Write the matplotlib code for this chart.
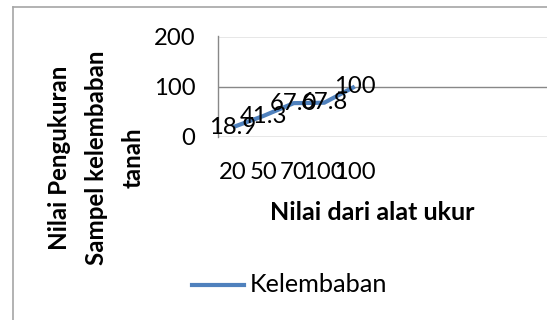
import matplotlib
matplotlib.use("Agg")
import matplotlib.pyplot as plt
from matplotlib.lines import Line2D

# Data
categories = ["20", "50", "70", "100", "100"]
values = [18.9, 41.3, 67.0, 67.8, 100]
value_labels = ["18.9", "41.3", "67.0", "67.8", "100"]
series_name = "Kelembaban"
y_ticks = [0, 100, 200]
x_title = "Nilai dari alat ukur"
y_title = "Nilai Pengukuran\nSampel kelembaban\ntanah"

plt.rcParams["font.family"] = ["Lato", "DejaVu Sans"]

W, H, DPI = 547, 320, 100
fig = plt.figure(figsize=(W / DPI, H / DPI), dpi=DPI)
fig.patch.set_facecolor("white")

def fx(px):
    return px / W

def fy(py):
    return 1 - py / H

# Chart-area border (left and top edges)
border = "#a6a6a6"
fig.add_artist(Line2D([fx(13), fx(13)], [fy(7), fy(330)], color=border, lw=1.2,
                      transform=fig.transFigure))
fig.add_artist(Line2D([fx(13), fx(560)], [fy(7), fy(7)], color=border, lw=1.2,
                      transform=fig.transFigure))

# Plot area
left_px, top_px, bottom_px, right_px = 217.5, 36.5, 136.7, 560
ax = fig.add_axes([fx(left_px), fy(bottom_px), fx(right_px - left_px),
                   (bottom_px - top_px) / H])
step = 30.5
ax.set_xlim(-0.5, -0.5 + (right_px - left_px) / step)
ax.set_ylim(0, 200)

grid_c = "#888888"
for s in ["top", "right", "bottom"]:
    ax.spines[s].set_visible(False)
ax.spines["left"].set_color(grid_c)
ax.spines["left"].set_linewidth(1.0)
ax.set_yticks(y_ticks)
ax.yaxis.grid(True, color=grid_c, linewidth=1.0)
ax.set_axisbelow(True)

fs = 17.2
ax.tick_params(axis="y", length=0, pad=16, labelsize=fs, labelcolor="black")
xs = list(range(len(categories)))
ax.set_xticks(xs)
ax.set_xticklabels(categories)
ax.tick_params(axis="x", length=0, pad=18, labelsize=fs, labelcolor="black")

ax.plot(xs, values, color="#4f81bd", linewidth=3.0, solid_capstyle="butt",
        clip_on=False)
for x, v, lab in zip(xs, values, value_labels):
    ax.text(x, v, lab, ha="center", va="center", fontsize=fs, color="black")

# Axis titles
fig.text(fx(372), fy(213), x_title, ha="center", va="center", fontsize=18,
         fontweight="bold")
fig.text(fx(96), fy(158), y_title, ha="center", va="center", fontsize=17.4,
         fontweight="bold", rotation=90, linespacing=1.72, multialignment="center")

# Legend
fig.add_artist(Line2D([fx(192), fx(244)], [fy(285), fy(285)], color="#4f81bd",
                      lw=3.0, transform=fig.transFigure))
fig.text(fx(250), fy(285), series_name, ha="left", va="center", fontsize=18.2)

fig.savefig("out.png", dpi=DPI, facecolor="white")
